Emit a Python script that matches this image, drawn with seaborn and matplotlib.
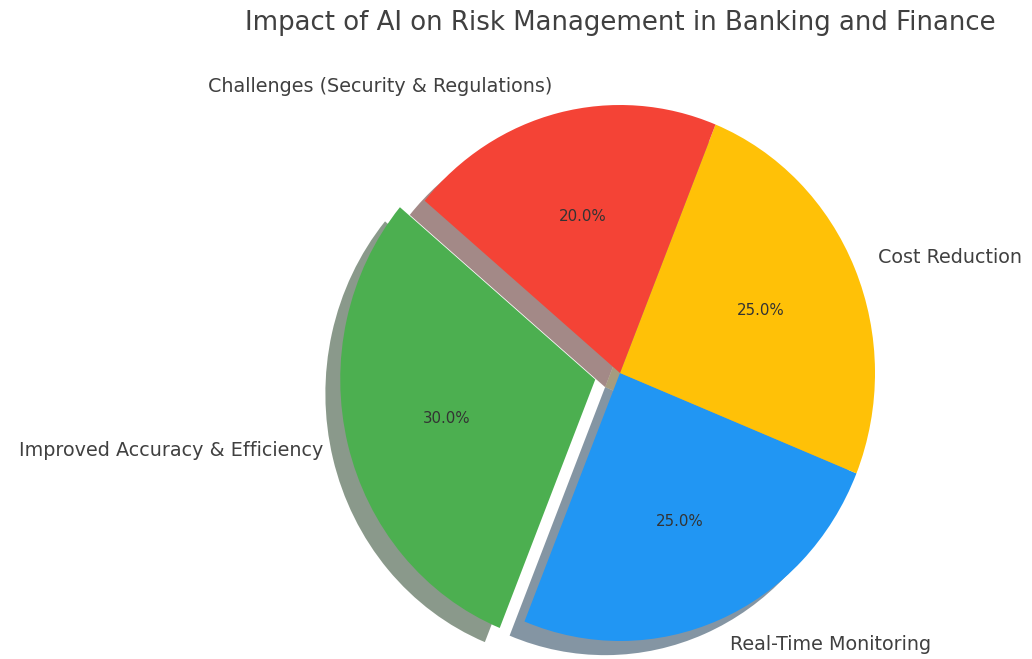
import seaborn as sns
from matplotlib import pyplot as plt

labels = ['Improved Accuracy & Efficiency', 'Real-Time Monitoring',
          'Cost Reduction', 'Challenges (Security & Regulations)']
shares = [30, 25, 25, 20]
colors = ['#4CAF50', '#2196F3', '#FFC107', '#F44336']
explode = [0.1, 0, 0, 0]
title = 'Impact of AI on Risk Management in Banking and Finance'

sns.set_theme(style='white')
plt.rcParams['font.family'] = ['DejaVu Sans']

fig = plt.figure(figsize=(10.32, 6.59), dpi=100)
ax = fig.add_axes([0, 0, 1, 1])

wedges, texts, autotexts = ax.pie(
    shares, labels=labels, colors=colors, explode=explode,
    autopct='%1.1f%%', startangle=140,
    shadow={'ox': -0.042, 'oy': -0.038, 'linewidth': 0},
    wedgeprops={'linewidth': 0},
    textprops={'color': '#404040', 'fontsize': 13.8})
for t in autotexts:
    t.set_fontsize(10.8)
    t.set_color('#333333')

# the reference is a bit squeezed sideways, so keep the aspect free
ax.set_aspect('auto')
ax.set_xlim(-620 / 255, (1032 - 620) / 255)
ax.set_ylim(-286 / 268, 373 / 268)
ax.axis('off')

fig.text(0.6013, 1 - 23 / 659, title, ha='center', va='center',
         fontsize=18.7, color='#404040')

fig.savefig('out.png', dpi=100)
